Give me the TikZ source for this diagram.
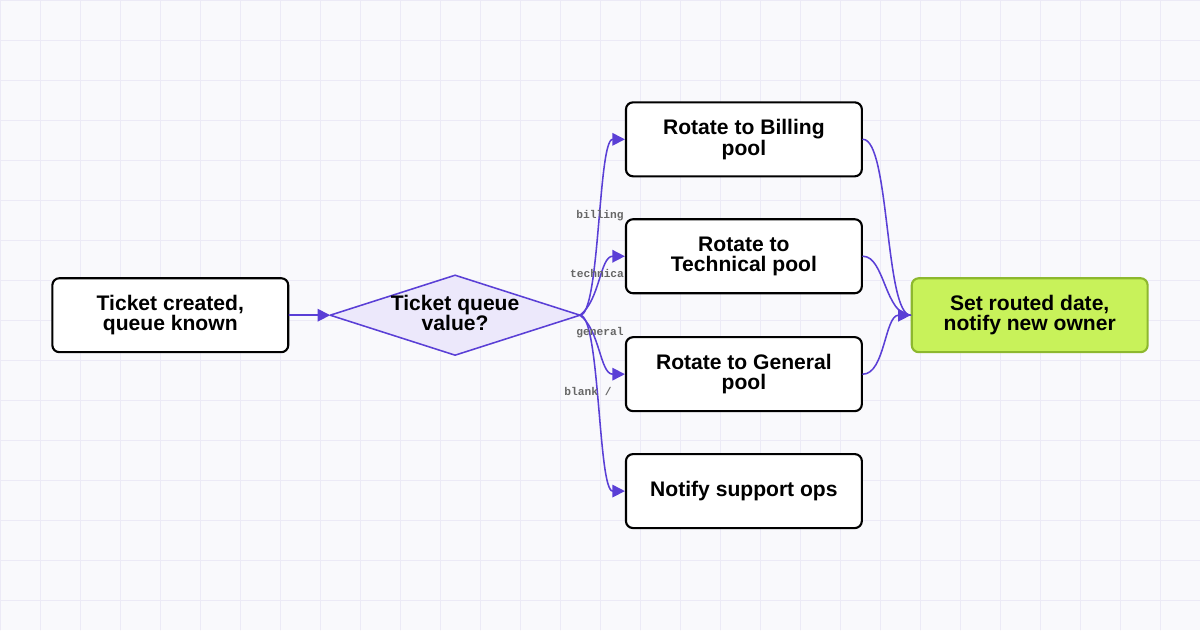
\documentclass[tikz,border=0pt]{standalone}
\usepackage{fontspec}
\setmainfont{Liberation Sans}
\newfontfamily\labelfont{Liberation Mono}
\usetikzlibrary{arrows.meta}
\definecolor{flowline}{HTML}{5A3FD6}
\definecolor{diamondfill}{HTML}{ECE8FB}
\definecolor{donefill}{HTML}{C8F25A}
\definecolor{doneline}{HTML}{8DB82E}
\definecolor{gridline}{HTML}{ECEAF6}
\definecolor{pagebg}{HTML}{F9F9FC}
\tikzset{
  step box/.style={draw=black,line width=1.5pt,fill=white,rounded corners=5pt,
    minimum width=5.9cm,minimum height=1.85cm,align=center,
    font=\fontsize{15}{14}\selectfont\bfseries},
  flow/.style={draw=flowline,line width=1.1pt},
  tip/.style={-{Triangle[length=9pt,width=9pt]}},
  case label/.style={font=\labelfont\fontsize{8}{8}\selectfont\bfseries,text=black!60}
}
\begin{document}
\begin{tikzpicture}[x=0.025cm,y=-0.025cm,line cap=round,line join=round]
\fill[pagebg] (0,0) rectangle (1200,630);
\draw[gridline,line width=0.6pt] (0,0) grid[step=1cm] (1200,630);
\useasboundingbox (0,0) rectangle (1200,630);
% nodes
\node[step box] (created) at (170,315) {Ticket created,\\queue known};
\node[draw=flowline,line width=1.1pt,fill=diamondfill,minimum width=0pt,inner sep=0pt,
  shape=coordinate] (qc) at (455,315) {};
\filldraw[flowline,fill=diamondfill,line width=1.1pt] (330,315) coordinate (qw) -- (455,275)
  -- (580,315) coordinate (qe) -- (455,355) -- cycle;
\node[align=center,font=\fontsize{15}{14}\selectfont\bfseries] (queue) at (455,313) {Ticket queue\\value?};
\node[step box] (billing) at (744,139) {Rotate to Billing\\pool};
\node[step box] (technical) at (744,256) {Rotate to\\Technical pool};
\node[step box] (general) at (744,374) {Rotate to General\\pool};
\node[step box] (ops) at (744,491) {Notify support ops};
\node[step box,fill=donefill,draw=doneline] (routed) at (1030,315) {Set routed date,\\notify new owner};
% connectors
\draw[flow,tip] (created.east) -- (qw);
\draw[flow,tip] (qe) .. controls (600,315) and (598,139) .. (billing.west);
\draw[flow,tip] (qe) .. controls (600,300) and (600,256) .. (technical.west);
\draw[flow,tip] (qe) .. controls (600,330) and (600,374) .. (general.west);
\draw[flow,tip] (qe) .. controls (600,315) and (598,491) .. (ops.west);
\draw[flow] (billing.east) .. controls (890,139) and (885,315) .. (routed.west);
\draw[flow] (technical.east) .. controls (885,256) and (885,315) .. (routed.west);
\draw[flow,tip] (general.east) .. controls (885,374) and (885,315) .. (routed.west);
% case labels
\node[case label] (lbilling) at (600,215) {billing};
\node[case label] (ltechnical) at (597,273) {technica};
\node[case label] (lgeneral) at (600,332) {general};
\node[case label] (lblank) at (588,391) {blank /};
\end{tikzpicture}
\end{document}
